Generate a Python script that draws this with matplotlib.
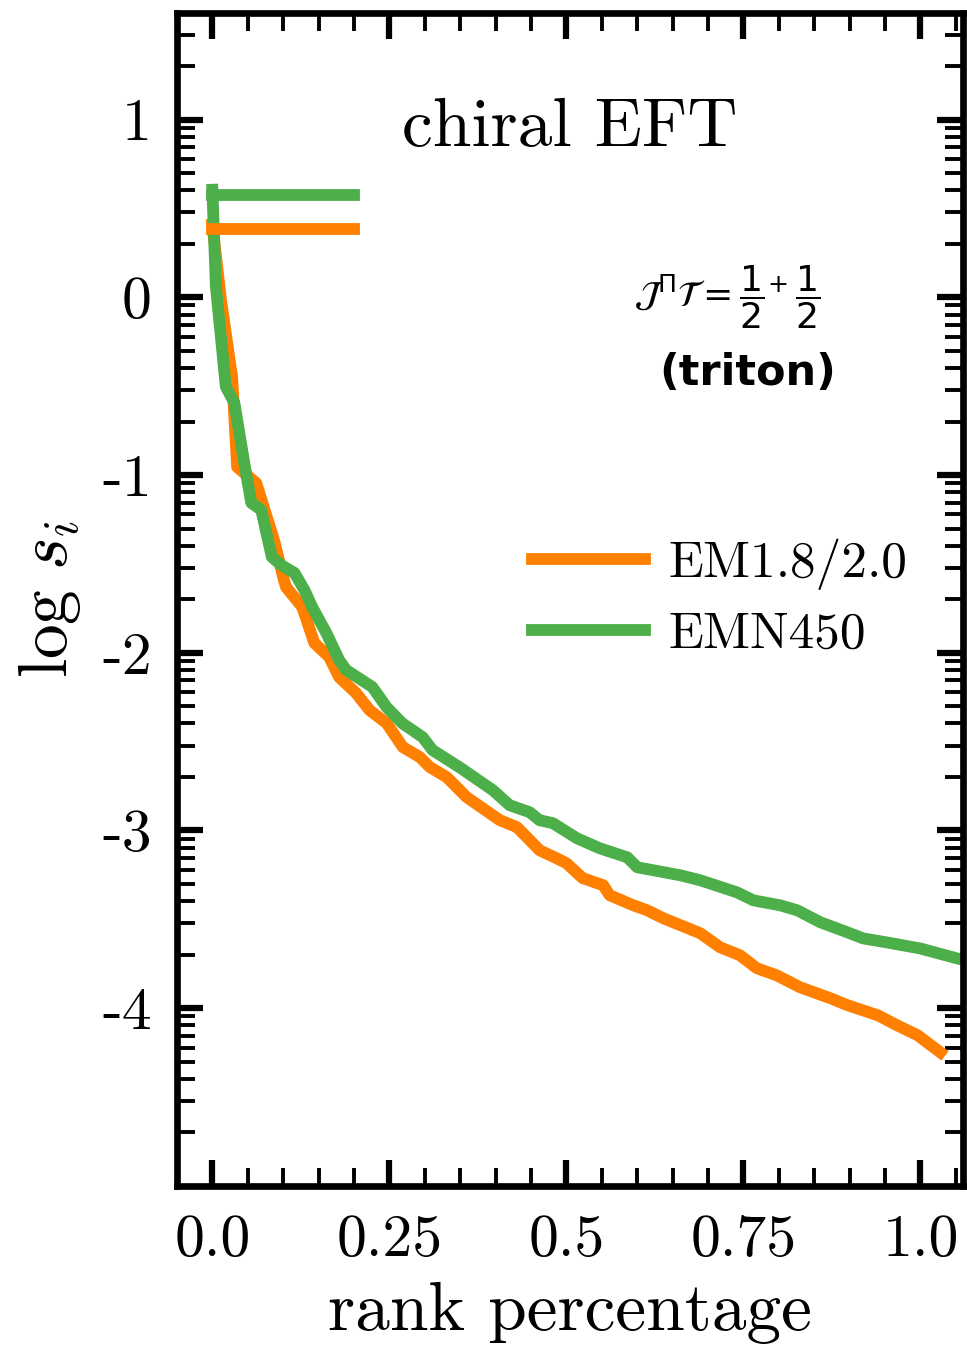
import numpy as np
import matplotlib
matplotlib.use("Agg")
import matplotlib.pyplot as plt
from matplotlib.ticker import FixedLocator, FixedFormatter, MultipleLocator

plt.rcParams['mathtext.fontset'] = 'cm'
plt.rcParams['font.family'] = 'cmr10'
plt.rcParams['axes.formatter.use_mathtext'] = True

# EM1.8/2.0 (orange)
x_em = [0.0, 0.012, 0.028, 0.035, 0.062, 0.087, 0.101, 0.104, 0.127, 0.144, 0.165, 0.179,
        0.203, 0.222, 0.246, 0.269, 0.293, 0.307, 0.331, 0.359, 0.406, 0.430, 0.444, 0.462,
        0.486, 0.500, 0.523, 0.552, 0.561, 0.594, 0.614, 0.637, 0.689, 0.717, 0.745, 0.769,
        0.797, 0.830, 0.873, 0.897, 0.940, 0.967, 0.996, 1.028]
y_em = [0.41, -0.01, -0.454, -0.955, -1.045, -1.366, -1.59, -1.630, -1.743, -1.945, -2.024, -2.137,
        -2.227, -2.323, -2.396, -2.531, -2.587, -2.643, -2.700, -2.812, -2.942, -2.981, -3.037, -3.111,
        -3.156, -3.184, -3.268, -3.308, -3.364, -3.420, -3.449, -3.494, -3.578, -3.657, -3.702, -3.775,
        -3.815, -3.882, -3.944, -3.983, -4.040, -4.096, -4.152, -4.248]

# EMN450 (green)
x_emn = [0.0, 0.005, 0.019, 0.031, 0.045, 0.055, 0.069, 0.084, 0.097, 0.116, 0.130, 0.141,
         0.161, 0.179, 0.189, 0.226, 0.246, 0.268, 0.297, 0.311, 0.349, 0.396, 0.420, 0.448,
         0.462, 0.481, 0.515, 0.547, 0.586, 0.600, 0.661, 0.689, 0.741, 0.764, 0.802, 0.826,
         0.859, 0.897, 0.919, 0.953, 1.000, 1.052, 1.075]
y_emn = [0.605, 0.06, -0.503, -0.593, -0.931, -1.157, -1.196, -1.461, -1.506, -1.551, -1.647, -1.743,
         -1.889, -2.041, -2.097, -2.193, -2.306, -2.396, -2.475, -2.548, -2.644, -2.773, -2.858, -2.897,
         -2.942, -2.959, -3.044, -3.100, -3.151, -3.207, -3.252, -3.280, -3.348, -3.393, -3.421, -3.449,
         -3.517, -3.573, -3.607, -3.630, -3.664, -3.720, -3.740]

# short horizontal levels at the top left
level_em = 0.386
level_emn = 0.578
level_x = [0.0, 0.2]

xticks = [0.0, 0.25, 0.5, 0.75, 1.0]
xticklabels = ['0.0', '0.25', '0.5', '0.75', '1.0']
yticks = [-4, -3, -2, -1, 0, 1]
yticklabels = ['-4', '-3', '-2', '-1', '0', '1']

orange = '#ff7f00'
green = '#4daf4a'

fig = plt.figure(figsize=(9.67, 13.46), dpi=100)
ax = fig.add_axes([0.1830, 0.1189, 0.8128, 0.8715])

lw = 8.5
ax.plot(x_em, y_em, color=orange, lw=lw, label='EM1.8/2.0', solid_joinstyle='round')
ax.plot(x_emn, y_emn, color=green, lw=lw, label='EMN450', solid_joinstyle='round')
ax.plot(level_x, [level_em, level_em], color=orange, lw=lw)
ax.plot(level_x, [level_emn, level_emn], color=green, lw=lw)

ax.set_xlim(-0.05, 1.06)
ax.set_ylim(-5, 1.6)

ax.xaxis.set_major_locator(FixedLocator(xticks))
ax.xaxis.set_major_formatter(FixedFormatter(xticklabels))
ax.xaxis.set_minor_locator(MultipleLocator(0.05))
ax.yaxis.set_major_locator(FixedLocator(yticks))
ax.yaxis.set_major_formatter(FixedFormatter(yticklabels))
# log-like minor ticks inside each decade
yminor = [float(n + np.log10(k)) for n in range(-5, 2) for k in range(2, 10)]
ax.yaxis.set_minor_locator(FixedLocator(yminor))

ax.tick_params(which='both', direction='in', top=True, right=True)
ax.tick_params(which='major', length=19, width=4.5)
ax.tick_params(which='minor', length=13, width=2.8)
ax.tick_params(axis='x', which='major', labelsize=43, pad=20)
ax.tick_params(axis='y', which='major', labelsize=43, pad=18)
for s in ax.spines.values():
    s.set_linewidth(4.8)

ax.set_xlabel('rank percentage', fontsize=50, labelpad=10)
ax.set_ylabel(r'$\log\, s_i$', fontsize=50, labelpad=14)

ax.text(0.505, 0.95, 'chiral EFT', fontsize=50, ha='center', va='center')
ax.text(0.728, 0.0, r'$\mathcal{J}^{\Pi}\mathcal{T} = {\dfrac{1}{2}}^{+}\,\dfrac{1}{2}$',
        fontsize=26, ha='center', va='center', math_fontfamily='dejavusans')
ax.text(0.756, -0.425, '(triton)', fontsize=31, fontweight='bold', family='DejaVu Sans',
        ha='center', va='center')

ax.legend(loc='center left', bbox_to_anchor=(0.452, 0.501), frameon=False, fontsize=37,
          handlelength=2.2, handletextpad=0.45, labelspacing=0.42, borderpad=0, borderaxespad=0)

fig.savefig('out.png', dpi=100)
